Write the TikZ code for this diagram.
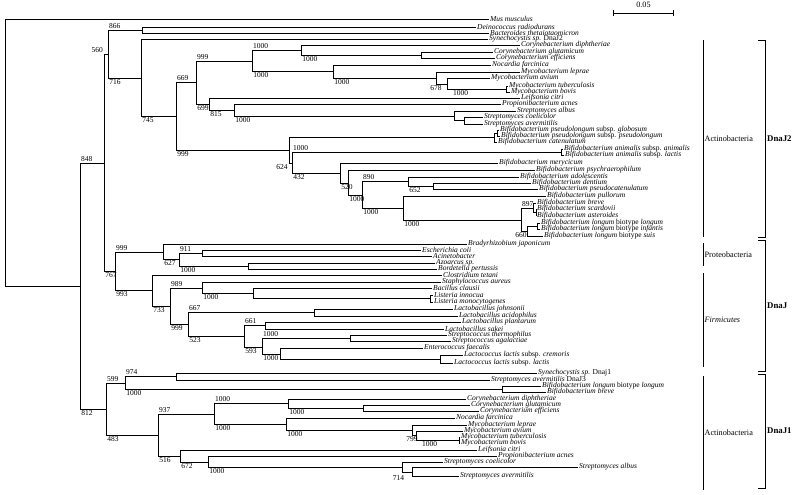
\documentclass[tikz,border=0pt]{standalone}
\usepackage{fontspec}
\setmainfont{Liberation Serif}
\usepackage{tikz}
\usetikzlibrary{arrows.meta}

\begin{document}
\begin{tikzpicture}[
    x=0.03cm, y=-0.03cm,
    br/.style={line width=0.75pt},
    leaf/.style={anchor=west, inner sep=0.8pt, font=\fontsize{6.4}{7}\selectfont\itshape},
    up/.style={pos=.5, anchor=south west, inner sep=0.6pt, font=\fontsize{6.4}{7}\selectfont},
    dn/.style={pos=.5, anchor=north west, inner sep=0.8pt, font=\fontsize{6.4}{7}\selectfont},
    dnr/.style={dn, xshift=4pt},
    dc/.style={dn, anchor=north},
    dcl/.style={dn, anchor=north, xshift=-3pt, yshift=-2pt},
    lft/.style={pos=.5, anchor=south east, inner sep=0.6pt, font=\fontsize{6.4}{7}\selectfont},
    lfd/.style={pos=.5, anchor=north east, inner sep=0.8pt, font=\fontsize{6.4}{7}\selectfont},
    nolab/.style={inner sep=0pt},
    grp/.style={anchor=west, inner sep=1pt, font=\fontsize{7}{8}\selectfont},
    fam/.style={anchor=west, inner sep=1.5pt, font=\fontsize{7.5}{8}\selectfont\bfseries},
  ]
  \useasboundingbox (0,0) rectangle (798,494);

  % noeuds internes
  \foreach \n/\x/\y in {root/5/153, B/80/286, C/104/163, D/108/54, n866/142/30,
      F/141/78, G/176/116, H/196/82, J/252/61, Ja/301/50, Jac/421/55, Jb/333/71,
      Jbm/436/78, Jbma/447/84, Jbmt/506/89, K/209/104, L/234/110, M/454/116,
      Mc/464/120, I/289/150, P1/494/137, P1a/497/133, Is/292/163, An/561/152,
      N432/340/173, N520/348/183, X/362/195, N890/408/181, N652/433/186,
      Y/403/208, Z/521/220, N897/533/208, N897s/536/212, W/527/231, Wl/537/226,
      E/115/271, E1/163/252, N627/179/259, N911/202/253, Naz/248/266,
      E2/152/290, N733/170/306, N989/202/288, Nbc/253/293, Nli/430/298,
      N999/188/324, Njo/314/312, N523/244/336, Npl/265/325, N593/262/347,
      Nst/350/338, Nef/280/354, Nll/440/359,
      F1/106/409, N599/125/383, Nsy/176/376, Nbi/502/389, N483/158/435,
      N937/214/414, Nco/288/403, Ncg/363/408, Nno/286/424, Nle/412/430,
      Nav/416/435, Ntb/459/440, N516/180/456, N672/208/462, Nsc/402/467,
      Nsa/412/472}
    \coordinate (\n) at (\x,\y);

  % branches internes avec bootstrap
  \foreach \p/\c/\s/\l in {root/B/nolab/, B/C/up/848, B/F1/dn/812, C/D/lft/560, C/E/dn/767,
      D/n866/up/866, D/F/dn/716, F/G/dn/745, G/H/up/669, G/I/dn/999,
      H/J/up/999, H/K/dn/699, J/Ja/up/1000, J/Jb/dn/1000, Ja/Jac/dn/1000,
      Jb/Jbm/dn/1000, Jbm/Jbma/dc/678, Jbma/Jbmt/dnr/1000, K/L/dn/815,
      L/M/dn/1000, M/Mc/nolab/, I/P1/nolab/, P1/P1a/nolab/, I/Is/lfd/624,
      Is/An/up/1000, Is/N432/dn/432, N432/N520/dn/520, N520/X/dn/1000,
      X/N890/up/890, X/Y/dn/1000, N890/N652/dn/652, Y/Z/dn/1000,
      Z/N897/up/897, Z/W/dc/660, N897/N897s/nolab/, W/Wl/nolab/,
      E/E1/up/999, E/E2/dn/993, E1/N627/dn/627, N627/N911/up/911,
      N627/Naz/dn/1000, E2/N733/dn/733, N733/N989/up/989, N733/N999/dn/999,
      N989/Nbc/dn/1000, Nbc/Nli/nolab/, N999/Njo/up/667, N999/N523/dn/523,
      N523/Npl/up/661, N523/N593/dn/593, N593/Nst/up/1000, N593/Nef/dn/1000,
      Nef/Nll/nolab/,
      F1/N599/up/599, F1/N483/dn/483, N599/Nsy/up/974, N599/Nbi/dn/1000,
      N483/N937/up/937, N483/N516/dn/516, N937/Nco/up/1000, N937/Nno/dn/1000,
      Nco/Ncg/dn/1000, Nno/Nle/dn/1000, Nle/Nav/dc/799, Nav/Ntb/dnr/1000,
      N516/N672/dn/672, N672/Nsc/dn/1000, Nsc/Nsa/dcl/714}
    \draw[br] (\p) |- (\c) node[\s] {\l};

  % feuilles
  \foreach \p/\n/\x/\y/\t in {
      root/mus/489/19/{Mus musculus},
      n866/dei/476/27/{Deinococcus radiodurans},
      n866/bac/489/33/{Bacteroides thetaiotaomicron},
      F/syn2/488/39/{Synechocystis sp. \textup{DnaJ2}},
      Ja/cdi/520/45/{Corynebacterium diphtheriae},
      Jac/cgl/493/52/{Corynebacterium glutamicum},
      Jac/cef/495/58/{Corynebacterium efficiens},
      Jb/nfa/491/65/{Nocardia farcinica},
      Jbm/mle/520/72/{Mycobacterium leprae},
      Jbma/mav/490/78/{Mycobacterium avium},
      Jbmt/mtb/508/86/{Mycobacterium tuberculosis},
      Jbmt/mbo/510/92/{Mycobacterium bovis},
      K/lci/520/98/{Leifsonia citri},
      L/pac/501/104/{Propionibacterium acnes},
      M/sal/516/111/{Streptomyces albus},
      Mc/sco/483/117/{Streptomyces coelicolor},
      Mc/sav/483/124/{Streptomyces avermitilis},
      P1a/bpg/499/130/{Bifidobacterium pseudolongum \textup{subsp.} globosum},
      P1a/bpp/500/136/{Bifidobacterium pseudolongum \textup{subsp.} pseudolongum},
      P1/bca/497/142/{Bifidobacterium catenulatum},
      An/ban/563/149/{Bifidobacterium animalis \textup{subsp.} animalis},
      An/bla/564/155/{Bifidobacterium animalis \textup{subsp.} lactis},
      N432/bme/498/163/{Bifidobacterium merycicum},
      N520/bps/535/170/{Bifidobacterium psychraerophilum},
      N890/bad/519/177/{Bifidobacterium adolescentis},
      N652/bde/531/183/{Bifidobacterium dentium},
      N652/bpc/538/189/{Bifidobacterium pseudocatenulatum},
      Y/bpu/546/196/{Bifidobacterium pullorum},
      N897/bbr/536/203/{Bifidobacterium breve},
      N897s/bsc/536/209/{Bifidobacterium scardovii},
      N897s/bas/536/216/{Bifidobacterium asteroides},
      Wl/blo/540/223/{Bifidobacterium longum \textup{biotype} longum},
      Wl/bin/540/229/{Bifidobacterium longum \textup{biotype} infantis},
      W/bsu/543/236/{Bifidobacterium longum \textup{biotype} suis},
      E1/bja/467/244/{Bradyrhizobium japonicum},
      N911/eco/421/250/{Escherichia coli},
      N911/aci/432/256/{Acinetobacter},
      Naz/azo/435/263/{Azoarcus sp.},
      Naz/bpe/437/269/{Bordetella pertussis},
      E2/cte/442/275/{Clostridium tetani},
      N989/sau/441/282/{Staphylococcus aureus},
      Nbc/bcl/432/288/{Bacillus clausii},
      Nli/lin/433/295/{Listeria innocua},
      Nli/lmo/433/302/{Listeria monocytogenes},
      Njo/ljo/453/309/{Lactobacillus johnsonii},
      Njo/lac/458/316/{Lactobacillus acidophilus},
      Npl/lpl/461/322/{Lactobacillus plantarum},
      Npl/lsa/444/329/{Lactobacillus sakei},
      Nst/sth/447/335/{Streptococcus thermophilus},
      Nst/sag/451/341/{Streptococcus agalactiae},
      Nef/efa/423/348/{Enterococcus faecalis},
      Nll/llc/463/355/{Lactococcus lactis \textup{subsp.} cremoris},
      Nll/lll/453/363/{Lactococcus lactis \textup{subsp.} lactis},
      Nsy/sy1/537/373/{Synechocystis sp. \textup{Dnaj1}},
      Nsy/sav3/490/380/{Streptomyces avermitilis \textup{DnaJ3}},
      Nbi/blo1/541/386/{Bifidobacterium longum \textup{biotype} longum},
      Nbi/bbr1/546/392/{Bifidobacterium breve},
      Nco/cdi1/466/399/{Corynebacterium diphtheriae},
      Ncg/cgl1/470/405/{Corynebacterium glutamicum},
      Ncg/cef1/479/411/{Corynebacterium efficiens},
      Nno/nfa1/455/418/{Nocardia farcinica},
      Nle/mle1/467/425/{Mycobacterium leprae},
      Nav/mav1/463/431/{Mycobacterium avium},
      Ntb/mtb1/460/437/{Mycobacterium tuberculosis},
      Ntb/mbo1/460/443/{Mycobacterium bovis},
      N516/lci1/477/450/{Leifsonia citri},
      N672/pac1/497/456/{Propionibacterium acnes},
      Nsc/sco1/443/462/{Streptomyces coelicolor},
      Nsa/sal1/578/467/{Streptomyces albus},
      Nsa/sav1/459/476/{Streptomyces avermitilis}}
  {
    \node[leaf] (\n) at (\x,\y) {\t};
    \draw[br] (\p) |- (\n.west);
  }

  % echelle
  \coordinate (sbl) at (613,13);
  \coordinate (sbr) at (674,13);
  \draw[br, {Bar[width=5pt]}-{Bar[width=5pt]}] (sbl) -- (sbr)
    node[midway, above=1pt, font=\fontsize{7}{8}\selectfont] {0.05};

  % groupes
  \foreach \a/\b/\t/\s in {40/237/Actinobacteria/, 243/266/Proteobacteria/,
      273/367/Firmicutes/\itshape, 376/490/Actinobacteria/}
    \draw[br] (703,\a) -- (703,\b) node[grp, midway, font=\fontsize{7}{8}\selectfont\s] {\t};
  \foreach \a/\b/\t in {40/237/DnaJ2, 240/371/DnaJ, 374/488/DnaJ1}
    \draw[br] (758,\a) -- (765,\a) -- (765,\b) -- (758,\b)
      node[fam] at (765,{(\a+\b)/2}) {\t};
\end{tikzpicture}
\end{document}
